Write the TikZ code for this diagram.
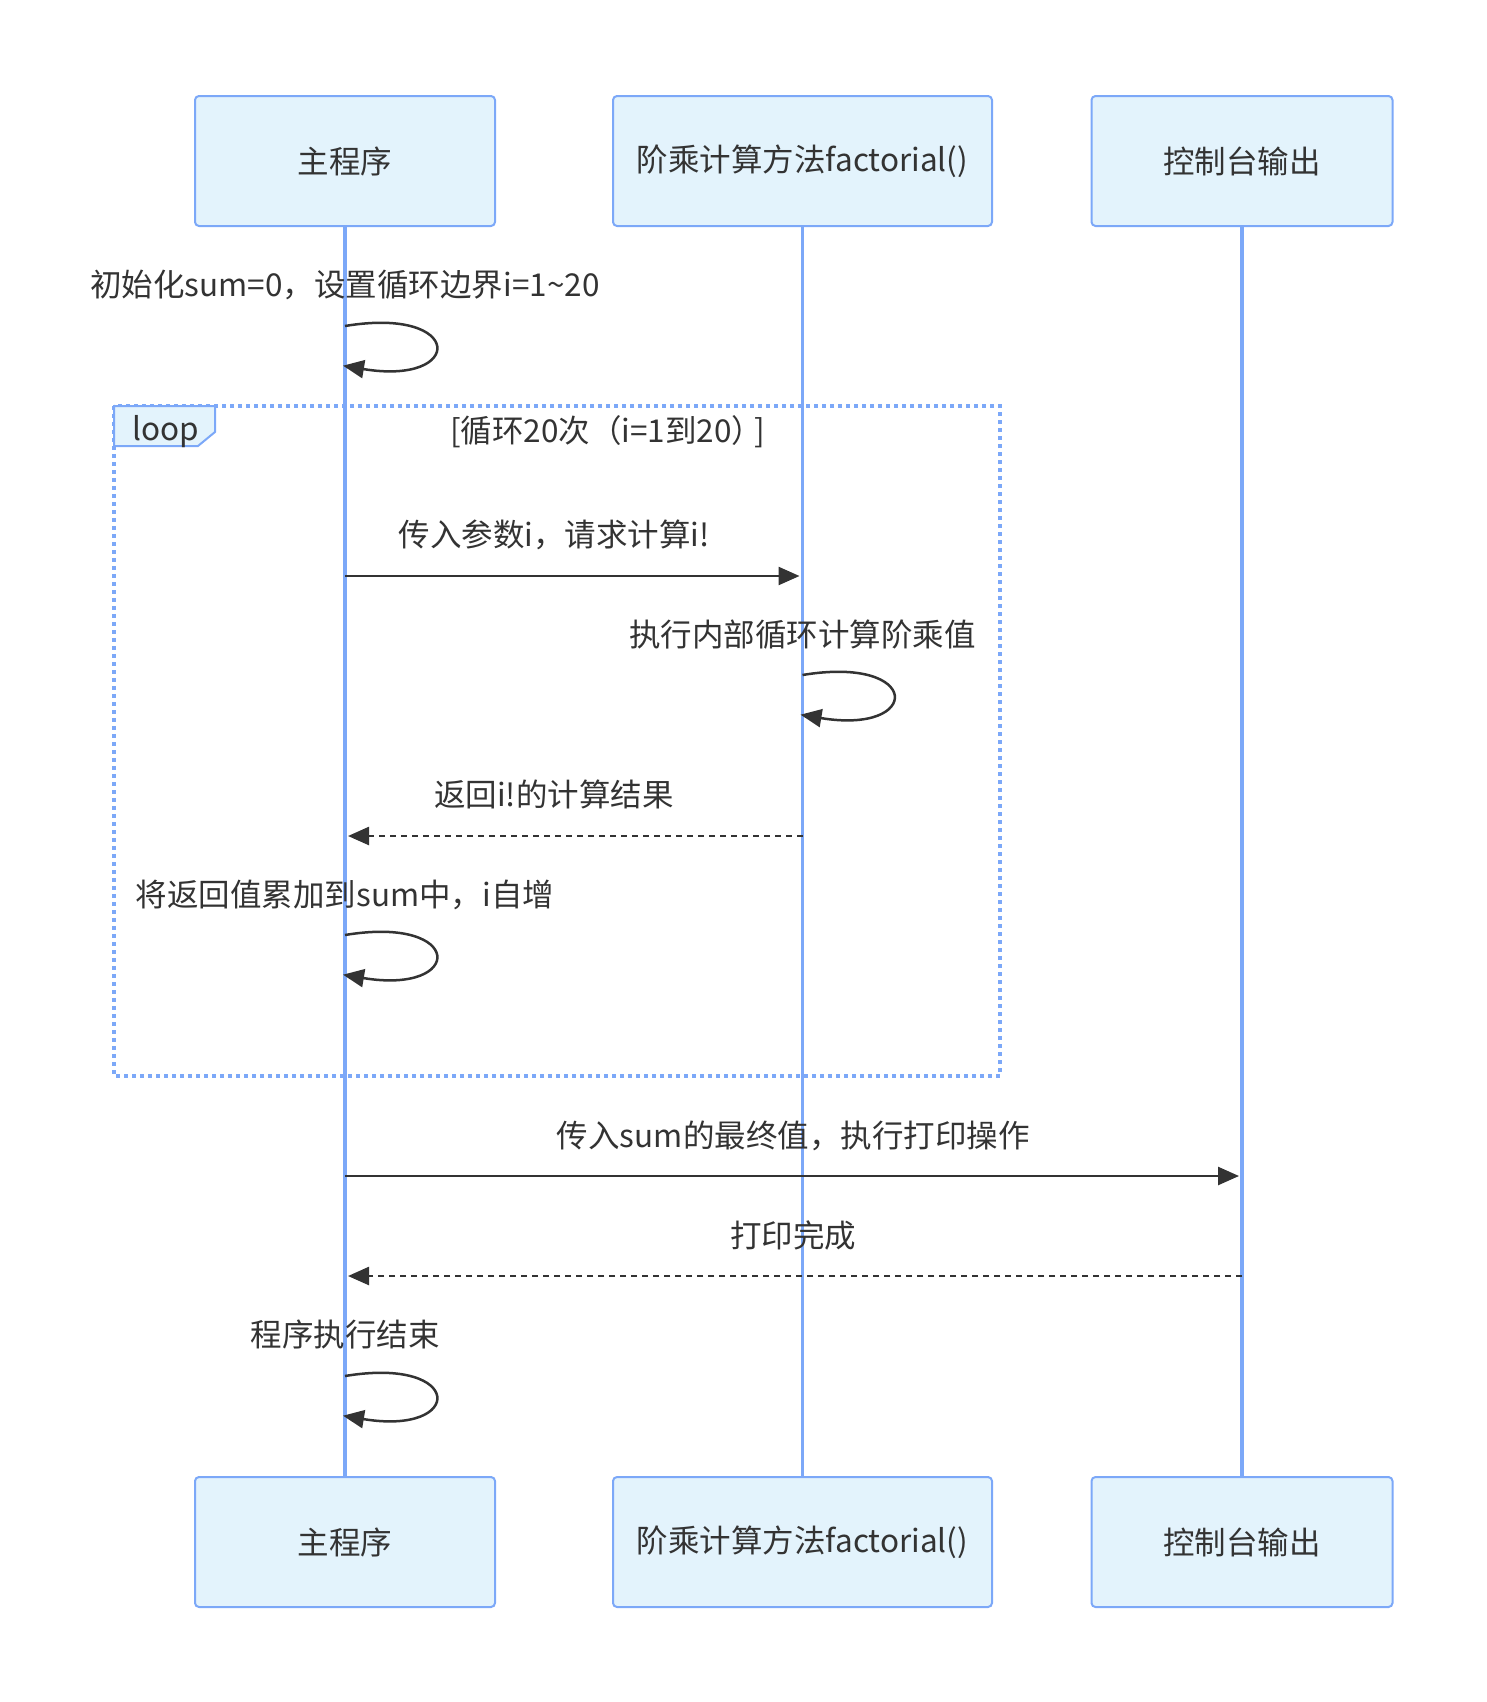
\documentclass[tikz,border=0pt]{standalone}
\usepackage{fontspec}
\usepackage{tikz}
\usetikzlibrary{arrows.meta}
\newfontfamily\cjk{Noto Sans CJK SC}
\definecolor{actorfill}{RGB}{227,243,252}
\definecolor{actorline}{RGB}{124,168,248}
\definecolor{ink}{RGB}{51,51,51}

\begin{document}
\begin{tikzpicture}[x=1pt,y=-1pt,
    every node/.style={font=\cjk\fontsize{31.5}{38}\selectfont, text=ink},
    actor/.style={draw=actorline, fill=actorfill, line width=2pt, rounded corners=4pt,
        minimum height=130pt, inner sep=0pt},
    lifeline/.style={draw=actorline, line width=3.5pt},
    msg/.style={draw=ink, line width=2.5pt, -{Triangle[length=21pt,width=18pt]}, shorten >=3pt},
    reply/.style={msg, dash pattern=on 6pt off 5pt},
    selfmsg/.style={msg, shorten >=-2pt},
    lbl/.style={anchor=base, inner sep=0pt},
    loopline/.style={draw=actorline, line width=3.5pt, dash pattern=on 4pt off 4pt}]

    \useasboundingbox (0,0) rectangle (1486,1702);

    \foreach \name/\x/\w/\txt in {main/345/300/主程序,
                                  fact/802.5/379/阶乘计算方法factorial(),
                                  cons/1242/301/控制台输出}{%
        \node[actor, minimum width=\w] (\name T) at (\x,161) {\txt};
        \node[actor, minimum width=\w] (\name B) at (\x,1542) {\txt};
        \draw[lifeline] (\name T) -- (\name B);
    }

    \path (mainT) -- (factT) coordinate[pos=.5] (midMF);
    \path (mainT) -- (consT) coordinate[pos=.5] (midMC);

    \coordinate (frameNW) at (114,406);
    \coordinate (frameSE) at (1000,1076);
    \draw[loopline] (frameNW) rectangle (frameSE);
    \draw[draw=actorline, fill=actorfill, line width=2pt]
        (frameNW) -- ++(101,0) coordinate (tabNE) -- ++(0,26) -- ++(-17,14) -- ++(-84,0) -- cycle;
    \node[lbl] (loopTag) at (166,440) {loop};
    \path (tabNE) -- (frameSE |- frameNW) coordinate[pos=.5] (loopMid);
    \node[lbl] (loopCond) at (loopMid |- 0,442) {[循环20次（i=1到20）\kern-9pt]};

    \node[lbl] (initTxt) at (mainT |- 0,296) {初始化sum=0，设置循环边界i=1\textasciitilde20};
    \draw[selfmsg] (mainT |- 0,326) .. controls +(120,-20) and +(120,20) .. (mainT |- 0,366);

    \node[lbl] (callTxt) at (midMF |- 0,546) {传入参数i，请求计算i!};
    \draw[msg] (mainT |- 0,576) -- (factT |- 0,576);

    \node[lbl] (innerTxt) at (factT |- 0,646) {执行内部循环计算阶乘值};
    \draw[selfmsg] (factT |- 0,675) .. controls +(120,-20) and +(120,20) .. (factT |- 0,715);

    \node[lbl] (backTxt) at (midMF |- 0,806) {返回i!的计算结果};
    \draw[reply] (factT |- 0,836) -- (mainT |- 0,836);

    \node[lbl] (sumTxt) at (mainT |- 0,906) {将返回值累加到sum中，i自增};
    \draw[selfmsg] (mainT |- 0,935) .. controls +(120,-20) and +(120,20) .. (mainT |- 0,975);

    \node[lbl] (printTxt) at (midMC |- 0,1147) {传入sum的最终值，执行打印操作};
    \draw[msg] (mainT |- 0,1176) -- (consT |- 0,1176);

    \node[lbl] (doneTxt) at (midMC |- 0,1247) {打印完成};
    \draw[reply] (consT |- 0,1276) -- (mainT |- 0,1276);

    \node[lbl] (endTxt) at (mainT |- 0,1346) {程序执行结束};
    \draw[selfmsg] (mainT |- 0,1376) .. controls +(120,-20) and +(120,20) .. (mainT |- 0,1416);
\end{tikzpicture}
\end{document}
